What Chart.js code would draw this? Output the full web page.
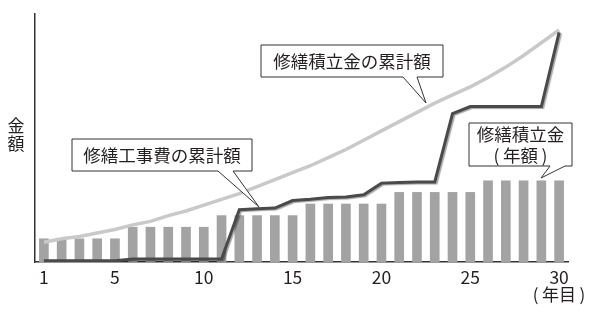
<!DOCTYPE html>
<html>
<head>
<meta charset="utf-8">
<script src="https://cdn.jsdelivr.net/npm/chart.js"></script>
<style>
  html, body { margin: 0; padding: 0; background: #fff; }
  #wrap { width: 600px; height: 313px; }
</style>
</head>
<body>
<div id="wrap"><canvas id="chart" width="600" height="313"></canvas></div>
<script>
  // 年目
  const years = ['1','2','3','4','5','6','7','8','9','10','11','12','13','14','15',
                 '16','17','18','19','20','21','22','23','24','25','26','27','28','29','30'];
  const shownTicks = ['1','5','10','15','20','25','30'];

  // 修繕積立金（年額）
  const annualReserve = [2,2,2,2,2, 3,3,3,3,3, 4,4,4,4,4, 5,5,5,5,5, 6,6,6,6,6, 7,7,7,7,7];

  // 修繕積立金の累計額
  const reserveTotal = [1.7,2.0,2.2,2.5,2.8, 3.2,3.5,4.0,4.4,4.9, 5.4,5.9,6.5,7.1,7.7,
                        8.3,9.0,9.7,10.5,11.3, 12.1,12.9,13.7,14.4,15.1, 15.9,16.8,17.8,18.9,20.0];

  // 修繕工事費の累計額
  const repairTotal = [0.1,0.1,0.1,0.1,0.1, 0.26,0.26,0.26,0.26,0.26, 0.26,4.5,4.6,4.65,5.3,
                       5.4,5.55,5.6,5.8,6.8, 6.85,6.9,6.9,12.8,13.4, 13.4,13.4,13.4,13.4,19.8];

  const FONT = '"Noto Sans CJK JP", "Noto Sans", sans-serif';
  const INK = '#231f20';

  function callout(ctx, b, lines) {
    ctx.beginPath();
    ctx.moveTo(b.l, b.t);
    ctx.lineTo(b.r, b.t);
    ctx.lineTo(b.r, b.b);
    ctx.lineTo(b.base[1], b.b);
    ctx.lineTo(b.tip[0], b.tip[1]);
    ctx.lineTo(b.base[0], b.b);
    ctx.lineTo(b.l, b.b);
    ctx.closePath();
    ctx.fillStyle = '#fff';
    ctx.fill();
    ctx.lineWidth = 1;
    ctx.strokeStyle = '#333';
    ctx.stroke();
    ctx.fillStyle = INK;
    ctx.font = '17.5px ' + FONT;
    ctx.textAlign = 'center';
    ctx.textBaseline = 'middle';
    const cx = (b.l + b.r) / 2;
    const lh = 21;
    const y0 = (b.t + b.b) / 2 - (lines.length - 1) * lh / 2;
    lines.forEach((s, i) => ctx.fillText(s, cx, y0 + i * lh));
  }

  const decorations = {
    id: 'decorations',
    beforeDatasetDraw(chart, args) {
      if (args.index === 2) {
        const ctx = chart.ctx;
        ctx.save();
        ctx.shadowColor = 'rgba(0,0,0,0.35)';
        ctx.shadowOffsetX = 1.5;
        ctx.shadowOffsetY = 1;
        ctx.shadowBlur = 1;
      }
    },
    afterDatasetDraw(chart, args) {
      if (args.index === 2) chart.ctx.restore();
    },
    afterDraw(chart) {
      const ctx = chart.ctx;
      ctx.save();
      // 縦軸タイトル
      ctx.fillStyle = INK;
      ctx.font = '17px ' + FONT;
      ctx.textAlign = 'center';
      ctx.textBaseline = 'middle';
      ctx.fillText('金', 16, 126);
      ctx.fillText('額', 16, 144);
      // 横軸単位
      ctx.fillText('(\u2009年目\u2009)', 559, 295);

      callout(ctx, { l: 261, t: 45, r: 443, b: 77, base: [403, 417], tip: [426, 103] },
        ['修繕積立金の累計額']);
      callout(ctx, { l: 72, t: 139, r: 252, b: 171, base: [218, 233], tip: [259, 207] },
        ['修繕工事費の累計額']);
      callout(ctx, { l: 469, t: 123, r: 572, b: 166, base: [550, 565], tip: [541, 178] },
        ['修繕積立金', '(\u2009年額\u2009)']);
      ctx.restore();
    }
  };

  new Chart(document.getElementById('chart'), {
    data: {
      labels: years,
      datasets: [
        {
          type: 'bar',
          label: '修繕積立金（年額）',
          data: annualReserve,
          backgroundColor: '#a3a3a3',
          barThickness: 9,
          order: 3
        },
        {
          type: 'line',
          label: '修繕積立金の累計額',
          data: reserveTotal,
          borderColor: '#c9c9c9',
          borderWidth: 3.5,
          pointRadius: 0,
          tension: 0,
          order: 2
        },
        {
          type: 'line',
          label: '修繕工事費の累計額',
          data: repairTotal,
          borderColor: '#4a4a4a',
          borderWidth: 3,
          borderJoinStyle: 'miter',
          pointRadius: 0,
          tension: 0,
          order: 1
        }
      ]
    },
    options: {
      responsive: false,
      animation: false,
      devicePixelRatio: 1,
      layout: { padding: { left: 35, right: 32, top: 14, bottom: 0 } },
      plugins: {
        legend: { display: false },
        tooltip: { enabled: false }
      },
      scales: {
        x: {
          type: 'category',
          offset: true,
          grid: { display: false, drawTicks: false },
          border: { display: true, color: '#333', width: 1.5 },
          ticks: {
            autoSkip: false,
            maxRotation: 0,
            padding: 5,
            color: INK,
            font: { family: FONT, size: 17.5 },
            callback: (v, i) => shownTicks.includes(years[i]) ? years[i] : ''
          },
          afterFit: s => { s.height = 51; }
        },
        y: {
          min: 0,
          max: 21.38,
          grid: { display: false, drawTicks: false },
          border: { display: true, color: '#333', width: 1.5 },
          ticks: { display: false },
          afterFit: s => { s.width = 0; }
        }
      }
    },
    plugins: [decorations]
  });
</script>
</body>
</html>
